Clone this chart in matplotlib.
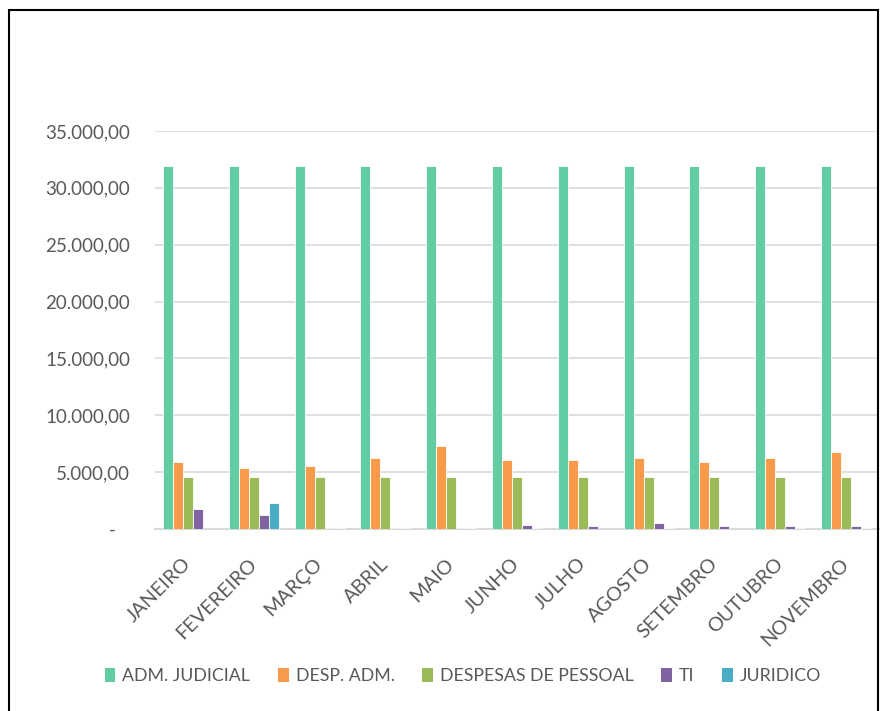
import matplotlib
matplotlib.use("Agg")
import matplotlib.pyplot as plt
from matplotlib.patches import Patch, Rectangle
import numpy as np

months = ["JANEIRO", "FEVEREIRO", "MARÇO", "ABRIL", "MAIO", "JUNHO",
          "JULHO", "AGOSTO", "SETEMBRO", "OUTUBRO", "NOVEMBRO"]
series_names = ["ADM. JUDICIAL", "DESP. ADM.", "DESPESAS DE PESSOAL", "TI", "JURIDICO"]
adm_judicial = [31900, 31900, 31900, 31900, 31900, 31900, 31900, 31900, 31900, 31900, 31900]
desp_adm = [5900, 5350, 5500, 6220, 7300, 6050, 6050, 6220, 5880, 6220, 6780]
despesas_pessoal = [4600, 4600, 4600, 4600, 4600, 4600, 4600, 4600, 4600, 4600, 4600]
ti = [1760, 1200, 120, 120, 120, 330, 300, 500, 300, 300, 300]
juridico = [0, 2260, 120, 120, 120, 120, 0, 120, 0, 120, 120]
yticks = [0, 5000, 10000, 15000, 20000, 25000, 30000, 35000]
ytick_labels = ["-   ", "5.000,00", "10.000,00", "15.000,00", "20.000,00",
                "25.000,00", "30.000,00", "35.000,00"]

colors = ["#62CCA2", "#F79A4A", "#9BBB59", "#8064A2", "#4BACC6"]
text_color = "#595959"

plt.rcParams['font.family'] = ['Lato', 'DejaVu Sans']

W, H = 880, 711
fig = plt.figure(figsize=(W / 100, H / 100), dpi=100)
ax = fig.add_axes([155 / W, 1 - 529 / H, (879 - 155) / W, (529 - 131) / H])

x = np.arange(len(months))
bw = 0.152
data = [adm_judicial, desp_adm, despesas_pessoal, ti, juridico]
for i, (vals, c, name) in enumerate(zip(data, colors, series_names)):
    ax.bar(x + (i - 2) * bw, vals, width=bw, color=c, edgecolor="white",
           linewidth=0.6, label=name, zorder=3)

ax.set_xlim(-0.5, len(months) - 0.5)
ax.set_ylim(0, 35000)
ax.set_yticks(yticks)
ax.set_yticklabels(ytick_labels, fontsize=13.5, color=text_color)
ax.yaxis.grid(True, color="#D9D9D9", linewidth=1.2, zorder=0)
ax.axhline(0, color="#D9D9D9", linewidth=1.5, zorder=2, clip_on=False)
ax.set_axisbelow(True)
for s in ax.spines.values():
    s.set_visible(False)
ax.tick_params(axis="y", length=0, pad=18)
ax.set_xticks(x)
ax.set_xticklabels(months, fontsize=14.3, color=text_color, rotation=45,
                   ha="right", va="center", rotation_mode="anchor")
ax.tick_params(axis="x", length=0, pad=23)

handles = [Patch(facecolor=c, edgecolor="none") for c in colors]
fig.legend(handles, series_names, loc="center", bbox_to_anchor=(463 / W, 1 - 676 / H),
           ncol=5, frameon=False, fontsize=12.8, handlelength=0.6, handleheight=0.85,
           handletextpad=0.4, columnspacing=1.55, labelcolor=text_color)

fig.patches.append(Rectangle((9 / W, -0.05), (878 - 9) / W, 1.05 - 10 / H,
                             transform=fig.transFigure, fill=False,
                             edgecolor="black", linewidth=1.5))

fig.savefig("out.png", dpi=100)
